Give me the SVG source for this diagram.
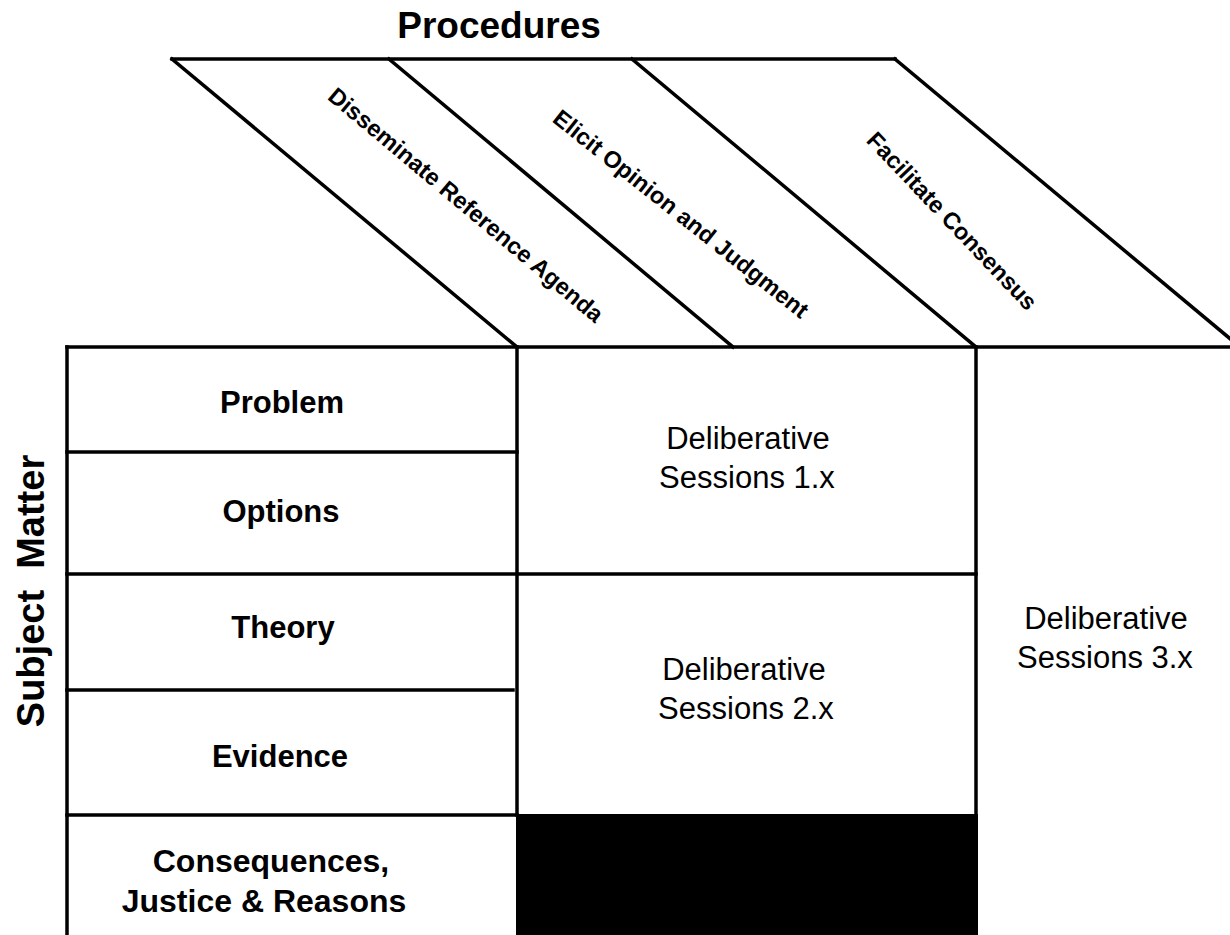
<svg xmlns="http://www.w3.org/2000/svg" width="1230" height="935" viewBox="0 0 1230 935">
<style>
.ln{stroke:#000;stroke-width:3.5;fill:none;stroke-linecap:square}
.b{font-family:"Liberation Sans",Arial,sans-serif;font-weight:bold;fill:#000}
.r{font-family:"Liberation Sans",Arial,sans-serif;fill:#000}
</style>
<rect width="1230" height="935" fill="#fff"/>
<g id="connectors">
<path class="ln" d="M172 59 H895"/>
<path class="ln" d="M172 59 L517 347"/>
<path class="ln" d="M389 59 L733 347"/>
<path class="ln" d="M632 59 L976 347"/>
<path class="ln" d="M895 59 L1240 347"/>
<path class="ln" d="M67 347 H1232"/>
<path class="ln" d="M67 347 V937"/>
<path class="ln" d="M517 347 V815"/>
<path class="ln" d="M976 347 V815"/>
<path class="ln" d="M67 452 H517"/>
<path class="ln" d="M67 574 H976"/>
<path class="ln" d="M67 690 H513"/>
<path class="ln" d="M67 815 H517"/>
</g>
<g id="title-procedures"><text class="b" x="499" y="38" font-size="37" text-anchor="middle">Procedures</text></g>
<g id="title-subject"><text class="b" font-size="38" text-anchor="middle" xml:space="preserve" transform="translate(44 591) rotate(-90)">Subject  Matter</text></g>
<g id="proc-disseminate"><text class="b" font-size="23.5" text-anchor="middle" transform="translate(466 205) rotate(40)" y="8">Disseminate Reference Agenda</text></g>
<g id="proc-elicit"><text class="b" font-size="23.5" text-anchor="middle" transform="translate(681 214) rotate(38.5)" y="8">Elicit Opinion and Judgment</text></g>
<g id="proc-facilitate"><text class="b" font-size="23.5" text-anchor="middle" transform="translate(952 221) rotate(46.5)" y="8">Facilitate Consensus</text></g>
<g id="row-problem"><text class="b" x="282" y="413" font-size="31" text-anchor="middle">Problem</text></g>
<g id="row-options"><text class="b" x="281" y="522" font-size="31" text-anchor="middle">Options</text></g>
<g id="row-theory"><text class="b" x="283" y="638" font-size="31" text-anchor="middle">Theory</text></g>
<g id="row-evidence"><text class="b" x="280" y="767" font-size="31" text-anchor="middle">Evidence</text></g>
<g id="row-consequences"><text class="b" font-size="32" text-anchor="middle"><tspan x="271" y="872">Consequences,</tspan><tspan x="264" y="912">Justice &amp; Reasons</tspan></text></g>
<g id="session-1"><text class="r" font-size="31" text-anchor="middle"><tspan x="748" y="449">Deliberative</tspan><tspan x="747" y="488">Sessions 1.x</tspan></text></g>
<g id="session-2"><text class="r" font-size="31" text-anchor="middle"><tspan x="744" y="680">Deliberative</tspan><tspan x="746" y="719">Sessions 2.x</tspan></text></g>
<g id="session-3"><text class="r" font-size="31" text-anchor="middle"><tspan x="1106" y="629">Deliberative</tspan><tspan x="1105" y="668">Sessions 3.x</tspan></text></g>
<g id="blocked-cell"><rect x="516" y="814" width="462" height="121" fill="#000"/></g>
</svg>
